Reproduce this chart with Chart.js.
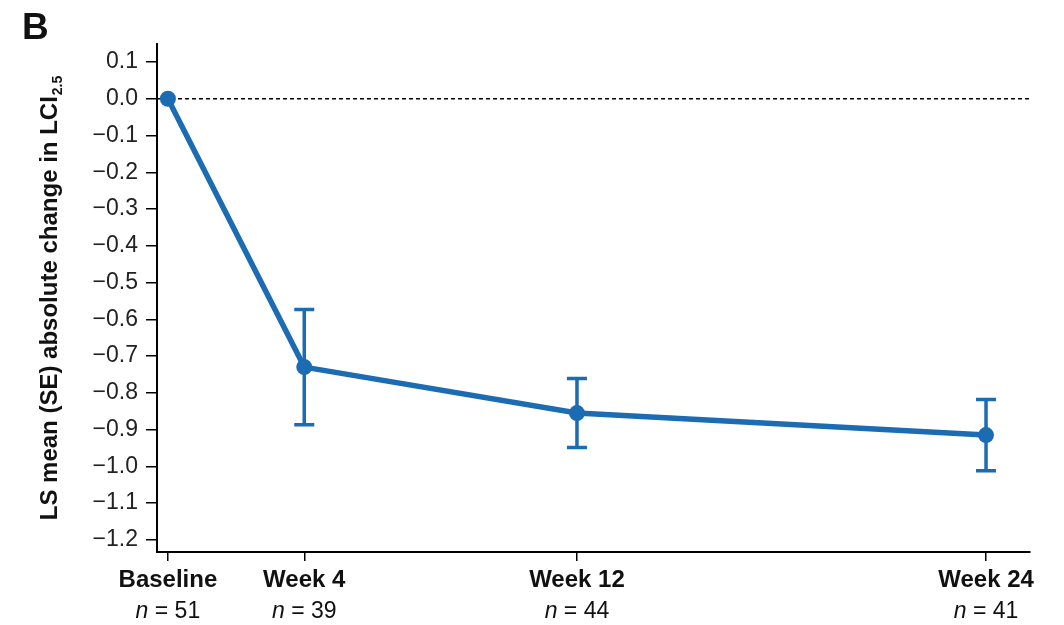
<!DOCTYPE html>
<html>
<head>
<meta charset="utf-8">
<script src="https://cdn.jsdelivr.net/npm/chart.js@4"></script>
<style>
  html, body { margin: 0; padding: 0; background: #fff; }
  #wrap { width: 1064px; height: 625px; position: relative; }
</style>
</head>
<body>
<div id="wrap"><canvas id="c" width="1064" height="625"></canvas></div>
<script>
// Visit schedule (weeks from baseline) and labels
const weeks = [0, 4, 12, 24];
const visitLabels = ['Baseline', 'Week 4', 'Week 12', 'Week 24'];
const nCounts = [51, 39, 44, 41];
// LS mean absolute change in LCI2.5 and its standard error
const lsMean = [0, -0.73, -0.855, -0.915];
const seValues = [0, 0.157, 0.094, 0.097];
// Y axis tick values
const yTicks = [0.1, 0.0, -0.1, -0.2, -0.3, -0.4, -0.5, -0.6, -0.7, -0.8, -0.9, -1.0, -1.1, -1.2];

const BLUE = '#1b6cb3';
const FONT = '"Liberation Sans", Arial, sans-serif';

function fmtTick(v) {
  const s = Math.abs(v).toFixed(1);
  return (v < -1e-9 ? '\u2212' : '') + s;
}

// Error bars drawn under the points
const errorBars = {
  id: 'errorBars',
  beforeDatasetsDraw(chart) {
    const { ctx, scales: { x, y } } = chart;
    ctx.save();
    ctx.strokeStyle = BLUE;
    ctx.lineWidth = 3.5;
    weeks.forEach((w, i) => {
      if (!seValues[i]) return;
      const px = x.getPixelForValue(w);
      const top = y.getPixelForValue(lsMean[i] + seValues[i]);
      const bot = y.getPixelForValue(lsMean[i] - seValues[i]);
      ctx.beginPath();
      ctx.moveTo(px, top); ctx.lineTo(px, bot);
      ctx.moveTo(px - 10, top); ctx.lineTo(px + 10, top);
      ctx.moveTo(px - 10, bot); ctx.lineTo(px + 10, bot);
      ctx.stroke();
    });
    ctx.restore();
  }
};

// Dashed reference line at zero
const zeroLine = {
  id: 'zeroLine',
  beforeDatasetsDraw(chart) {
    const { ctx, chartArea, scales: { y } } = chart;
    const py = y.getPixelForValue(0);
    ctx.save();
    ctx.strokeStyle = '#000';
    ctx.lineWidth = 1.3;
    ctx.setLineDash([4, 3]);
    ctx.beginPath();
    ctx.moveTo(chartArea.left, py);
    ctx.lineTo(chartArea.right, py);
    ctx.stroke();
    ctx.restore();
  }
};

// Visit labels with n counts, axis title with subscript, panel letter
const annotations = {
  id: 'annotations',
  afterDraw(chart) {
    const { ctx, scales: { x } } = chart;
    ctx.save();
    ctx.fillStyle = '#111';
    ctx.textBaseline = 'middle';
    weeks.forEach((w, i) => {
      const px = x.getPixelForValue(w);
      ctx.textAlign = 'center';
      ctx.font = 'bold 24px ' + FONT;
      ctx.fillText(visitLabels[i], px, 580);
      // "n = 51" with italic n
      ctx.font = 'italic 23px ' + FONT;
      const a = 'n';
      const wa = ctx.measureText(a).width;
      ctx.font = '23px ' + FONT;
      const b = ' = ' + nCounts[i];
      const wb = ctx.measureText(b).width;
      const start = px - (wa + wb) / 2;
      ctx.textAlign = 'left';
      ctx.font = 'italic 23px ' + FONT;
      ctx.fillText(a, start, 612);
      ctx.font = '23px ' + FONT;
      ctx.fillText(b, start + wa, 612);
    });

    // Rotated y axis title
    const main = 'LS mean (SE) absolute change in LCI';
    const sub = '2.5';
    ctx.font = 'bold 24px ' + FONT;
    const wm = ctx.measureText(main).width;
    ctx.font = 'bold 14px ' + FONT;
    const ws = ctx.measureText(sub).width;
    const total = wm + ws + 1;
    ctx.translate(50, 298);
    ctx.rotate(-Math.PI / 2);
    ctx.textAlign = 'left';
    ctx.textBaseline = 'middle';
    ctx.font = 'bold 24px ' + FONT;
    ctx.fillText(main, -total / 2, 0);
    ctx.font = 'bold 14px ' + FONT;
    ctx.fillText(sub, -total / 2 + wm + 1, 8);
    ctx.restore();

    ctx.save();
    ctx.fillStyle = '#111';
    ctx.font = 'bold 37px ' + FONT;
    ctx.textAlign = 'left';
    ctx.textBaseline = 'alphabetic';
    ctx.fillText('B', 22, 39);
    ctx.restore();
  }
};

new Chart(document.getElementById('c'), {
  type: 'line',
  data: {
    datasets: [{
      data: weeks.map((w, i) => ({ x: w, y: lsMean[i] })),
      borderColor: BLUE,
      backgroundColor: BLUE,
      borderWidth: 5.5,
      pointRadius: 8,
      pointHoverRadius: 8,
      pointBorderWidth: 0,
      tension: 0,
      clip: false
    }]
  },
  options: {
    responsive: false,
    animation: false,
    events: [],
    layout: { padding: { left: 0, top: 44, right: 34, bottom: 0 } },
    plugins: { legend: { display: false }, tooltip: { enabled: false } },
    scales: {
      x: {
        type: 'linear',
        min: -0.32,
        max: 25.29,
        afterBuildTicks(scale) { scale.ticks = weeks.map(v => ({ value: v })); },
        afterFit(scale) { scale.height = 73; },
        ticks: { display: false },
        grid: { drawOnChartArea: false, drawTicks: true, tickLength: 9, color: '#000', lineWidth: 1.5 },
        border: { display: true, color: '#000', width: 2 }
      },
      y: {
        type: 'linear',
        min: -1.233,
        max: 0.149,
        afterBuildTicks(scale) { scale.ticks = yTicks.map(v => ({ value: v })); },
        afterFit(scale) { scale.width = 157; },
        ticks: {
          color: '#222',
          font: { family: FONT, size: 23 },
          padding: 8,
          callback: (v) => fmtTick(v)
        },
        grid: { drawOnChartArea: false, drawTicks: true, tickLength: 11, color: '#000', lineWidth: 1.5 },
        border: { display: true, color: '#000', width: 2 }
      }
    }
  },
  plugins: [errorBars, zeroLine, annotations]
});
</script>
</body>
</html>
